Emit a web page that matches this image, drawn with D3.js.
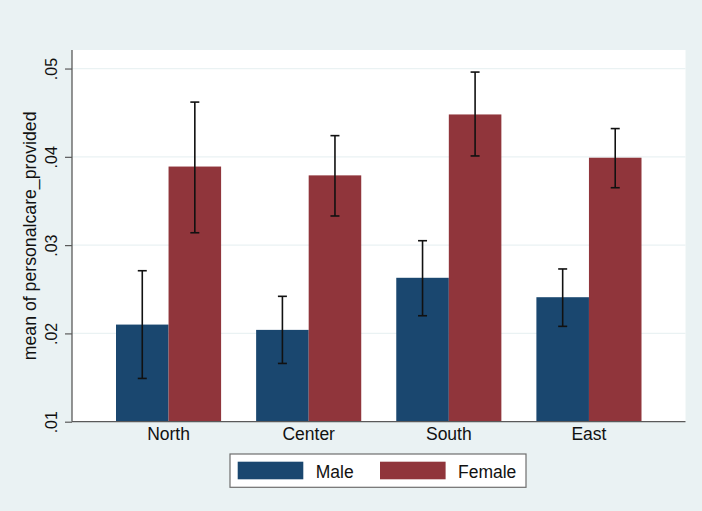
<!DOCTYPE html>
<html>
<head>
<meta charset="utf-8">
<script src="https://cdn.jsdelivr.net/npm/d3@7"></script>
<style>
  body { margin: 0; background: #eaf2f3; }
  svg { display: block; font-family: "Liberation Sans", Arial, Helvetica, sans-serif; }
</style>
</head>
<body>
<div class="chart"></div>
<script>
const regions = ["North", "Center", "South", "East"];
const sexes = ["Male", "Female"];

const maleMean = [0.0210, 0.0204, 0.0263, 0.0241];
const maleLo = [0.0149, 0.0166, 0.0220, 0.0208];
const maleHi = [0.0271, 0.0242, 0.0305, 0.0273];

const femaleMean = [0.0389, 0.0379, 0.0448, 0.0399];
const femaleLo = [0.0314, 0.0333, 0.0401, 0.0365];
const femaleHi = [0.0462, 0.0424, 0.0496, 0.0432];

const yTicks = [0.01, 0.02, 0.03, 0.04, 0.05];
const yTitle = "mean of personalcare_provided";

const w = 702;
const h = 511;
const plot = { left: 72, right: 685.5, top: 50, bottom: 421.7 };
const colors = { Male: "#1a476f", Female: "#90353b" };

// one row per bar, built from the arrays above
const rows = [];
regions.forEach((r, i) => {
    rows.push({ region: r, sex: "Male", mean: maleMean[i], lo: maleLo[i], hi: maleHi[i] });
    rows.push({ region: r, sex: "Female", mean: femaleMean[i], lo: femaleLo[i], hi: femaleHi[i] });
});

const svg = d3
    .select(".chart")
    .append("svg")
    .attr("width", w)
    .attr("height", h);

svg.append("rect")
    .attr("width", w)
    .attr("height", h)
    .attr("fill", "#eaf2f3");

const xScale = d3
    .scaleBand()
    .domain(regions)
    .range([plot.left, plot.right])
    .paddingInner(0.25)
    .paddingOuter(0.314);

const xSub = d3
    .scaleBand()
    .domain(sexes)
    .range([0, xScale.bandwidth()]);

const yScale = d3
    .scaleLinear()
    .domain([0.01, 0.0521])
    .range([plot.bottom, plot.top]);

// plot region
svg.append("rect")
    .attr("x", plot.left)
    .attr("y", plot.top)
    .attr("width", plot.right - plot.left)
    .attr("height", plot.bottom - plot.top)
    .attr("fill", "#ffffff");

// grid lines
svg.append("g")
    .selectAll("line")
    .data(yTicks.slice(1))
    .join("line")
    .attr("x1", plot.left)
    .attr("x2", plot.right)
    .attr("y1", (d) => yScale(d))
    .attr("y2", (d) => yScale(d))
    .attr("stroke", "#eaf2f3")
    .attr("stroke-width", 1.2);

// bars
svg.append("g")
    .selectAll("rect")
    .data(rows)
    .join("rect")
    .attr("x", (d) => xScale(d.region) + xSub(d.sex))
    .attr("y", (d) => yScale(d.mean))
    .attr("width", xSub.bandwidth())
    .attr("height", (d) => yScale(0.01) - yScale(d.mean))
    .attr("fill", (d) => colors[d.sex]);

// error bars
const capHalf = 4.5;
const err = svg.append("g")
    .attr("stroke", "#111111")
    .attr("stroke-width", 1.6)
    .selectAll("g")
    .data(rows)
    .join("g")
    .attr("transform", (d) => `translate(${xScale(d.region) + xSub(d.sex) + xSub.bandwidth() / 2},0)`);

err.append("line")
    .attr("y1", (d) => yScale(d.lo))
    .attr("y2", (d) => yScale(d.hi));
err.append("line")
    .attr("x1", -capHalf)
    .attr("x2", capHalf)
    .attr("y1", (d) => yScale(d.hi))
    .attr("y2", (d) => yScale(d.hi));
err.append("line")
    .attr("x1", -capHalf)
    .attr("x2", capHalf)
    .attr("y1", (d) => yScale(d.lo))
    .attr("y2", (d) => yScale(d.lo));

// y axis
const yAxis = d3
    .axisLeft(yScale)
    .tickValues(yTicks)
    .tickSize(7)
    .tickPadding(0)
    .tickFormat((d) => d3.format(".2f")(d).replace(/^0/, ""));

svg.append("g")
    .attr("transform", `translate(${plot.left},0)`)
    .call(yAxis)
    .call((g) => g.select(".domain").attr("d", `M0,${plot.top}V${plot.bottom}`).attr("stroke", "#5a5a5a").attr("stroke-width", 1.3))
    .call((g) => g.selectAll(".tick line").attr("stroke", "#5a5a5a").attr("stroke-width", 1.2))
    .call((g) =>
        g.selectAll(".tick text")
            .attr("x", null)
            .attr("dy", null)
            .attr("text-anchor", "middle")
            .attr("transform", "translate(-15,0) rotate(-90)")
            .attr("font-size", "16px")
            .attr("fill", "#111111")
    );

// x axis
const xAxis = d3.axisBottom(xScale).tickSize(0).tickPadding(0);

svg.append("g")
    .attr("transform", `translate(0,${plot.bottom})`)
    .call(xAxis)
    .call((g) => g.select(".domain").attr("d", `M${plot.left},0H${plot.right}`).attr("stroke", "#5a5a5a").attr("stroke-width", 1.3))
    .call((g) =>
        g.selectAll(".tick text")
            .attr("y", 18.5)
            .attr("dy", null)
            .attr("font-size", "17.5px")
            .attr("fill", "#111111")
    );

// y title
svg.append("text")
    .attr("transform", `translate(35.5,${(plot.top + plot.bottom) / 2}) rotate(-90)`)
    .attr("text-anchor", "middle")
    .attr("font-size", "17.7px")
    .attr("fill", "#111111")
    .text(yTitle);

// legend
const legend = svg.append("g");
legend.append("rect")
    .attr("x", 230)
    .attr("y", 454)
    .attr("width", 296)
    .attr("height", 33.3)
    .attr("fill", "#ffffff")
    .attr("stroke", "#6e6e6e")
    .attr("stroke-width", 1.2);

const legendItems = legend
    .selectAll("g")
    .data(sexes)
    .join("g")
    .attr("transform", (d, i) => `translate(${237.7 + i * 142.3},0)`);

legendItems.append("rect")
    .attr("y", 461.7)
    .attr("width", 65.6)
    .attr("height", 17.6)
    .attr("fill", (d) => colors[d]);

legendItems.append("text")
    .attr("x", 78)
    .attr("y", 477.5)
    .attr("font-size", "17.5px")
    .attr("fill", "#111111")
    .text((d) => d);
</script>
</body>
</html>
